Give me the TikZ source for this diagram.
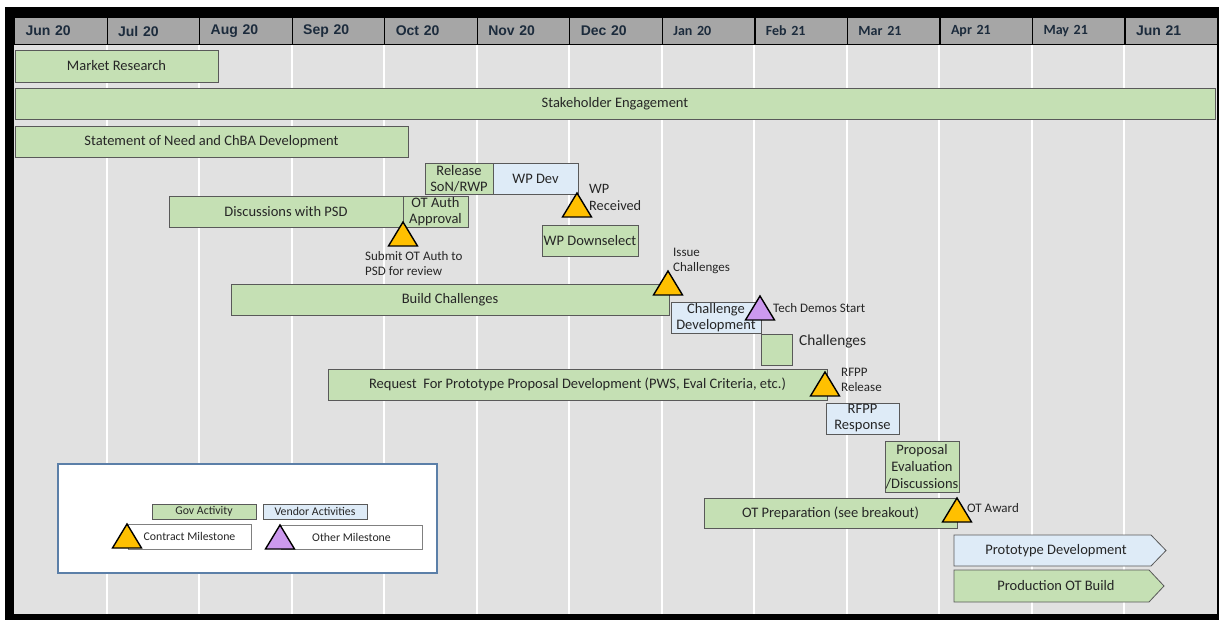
\documentclass[tikz,border=0pt]{standalone}
\usepackage{fontspec}
\setmainfont{Carlito}
\newfontfamily\hA{Liberation Sans}
\definecolor{chartbg}{HTML}{E1E1E1}
\definecolor{hdrgray}{HTML}{A6A6A6}
\definecolor{hdrtxt}{HTML}{1C2B3C}
\definecolor{gov}{HTML}{C5E0B4}
\definecolor{ven}{HTML}{DEEBF7}
\definecolor{barline}{HTML}{595959}
\definecolor{txt}{HTML}{262626}
\definecolor{cmile}{HTML}{FFC000}
\definecolor{omile}{HTML}{CC99EE}
\definecolor{legline}{HTML}{5B7FA8}
\tikzset{
  hdr/.style={draw=black, line width=1.2pt, fill=hdrgray, minimum height=27pt, inner ysep=0pt,
    inner xsep=11pt, text width=70.54pt, align=left, anchor=north west, text=hdrtxt,
    font=\fontsize{14}{15}\selectfont\bfseries},
  bar/.style={draw=barline, line width=0.8pt, inner sep=0pt, outer sep=0pt, anchor=north west,
    align=center, text=txt, font=\fontsize{14.5}{16}\selectfont},
  govbar/.style={bar, fill=gov},
  venbar/.style={bar, fill=ven},
  small/.style={inner sep=0pt, align=left, text=txt, font=\fontsize{13}{15}\selectfont},
  legtxt/.style={font=\fontsize{11.8}{13}\selectfont},
  contract/.pic={\draw[fill=cmile, line width=1.4pt, line join=miter] (0,0) -- (-14.5,24) -- (14.5,24) -- cycle;},
  other/.pic={\draw[fill=omile, line width=1.4pt, line join=miter] (0,0) -- (-14.5,24) -- (14.5,24) -- cycle;}
}
\begin{document}
\begin{tikzpicture}[x=1pt,y=-1pt]
\useasboundingbox (0,0) rectangle (1219,620);
\fill[white] (0,0) rectangle (1219,620);
\fill[black] (5,7) rectangle (1219,620);
\fill[chartbg] (14,44) rectangle (1217,614);
\foreach \i in {1,...,12} \draw[white, line width=2pt] ({14+92.54*\i},44) -- ({14+92.54*\i},614);
% header
\foreach \m [count=\i from 0] in {{\hA Jun 20},{\hA Jul 20},{\hA Aug 20},{\hA Sep 20},{\hA Oct 20},{\hA Nov 20},{\hA Dec 20},{Jan 20},{Feb 21},{Mar 21},{Apr 21},{May 21},{\hA Jun 21}}
  \node[hdr] (h\i) at ({14+92.54*\i},17) {\m};
% bars
\node[govbar, minimum width=203pt, minimum height=32pt] (mr) at (15,50) {Market Research};
\node[govbar, minimum width=1200pt, minimum height=31pt] (se) at (15,88) {Stakeholder Engagement};
\node[govbar, minimum width=393pt, minimum height=31pt] (sn) at (15,126) {Statement of Need and ChBA Development};
\node[govbar, minimum width=68pt, minimum height=31pt] (rel) at (425,163) {Release\\SoN/RWP};
\node[venbar, minimum width=85pt, minimum height=31pt] (wpd) at (493,163) {WP Dev};
\node[govbar, minimum width=234pt, minimum height=31pt] (dis) at (169,196) {Discussions with PSD};
\node[govbar, minimum width=65pt, minimum height=31pt] (ota) at (403,196) {OT Auth\\Approval};
\node[govbar, minimum width=96pt, minimum height=31pt] (wpds) at (542,225) {WP Downselect};
\node[govbar, minimum width=438pt, minimum height=31pt] (bc) at (231,284) {Build Challenges};
\node[venbar, minimum width=90pt, minimum height=31pt] (cd) at (671,302) {Challenge\\Development};
\node[govbar, minimum width=31pt, minimum height=31pt] (ch) at (761,334) {};
\node[govbar, minimum width=499pt, minimum height=31pt] (rfp) at (328,369) {Request\ \ For Prototype Proposal Development (PWS, Eval Criteria, etc.)};
\node[venbar, minimum width=73pt, minimum height=31pt] (rr) at (826,403) {RFPP\\Response};
\node[govbar, minimum width=74pt, minimum height=51pt, font=\fontsize{14.5}{17}\selectfont] (pe) at (885,441) {Proposal\\Evaluation\\/Discussions};
\node[govbar, minimum width=253pt, minimum height=30pt] (otp) at (704,498) {OT Preparation (see breakout)};
\draw[draw=barline, line width=0.8pt, fill=ven] (954,535) -- (1151,535) -- (1166,550.5) -- (1151,566) -- (954,566) -- cycle;
\node[text=txt, font=\fontsize{14.5}{16}\selectfont] (proto) at (1056,551) {Prototype Development};
\draw[draw=barline, line width=0.8pt, fill=gov] (954,570) -- (1149,570) -- (1164,586) -- (1149,602) -- (954,602) -- cycle;
\node[text=txt, font=\fontsize{14.5}{16}\selectfont] (prod) at (1056,586) {Production OT Build};
% milestones
\pic at (403,222) {contract};
\node[small, anchor=north west] (l1) at (365,251) {Submit OT Auth to\\PSD for review};
\pic at (577,193) {contract};
\node[small, anchor=west, font=\fontsize{14.3}{17}\selectfont] (l2) at (589,197) {WP\\Received};
\pic at (668,271) {contract};
\node[small, anchor=west] (l3) at (673,261) {Issue\\Challenges};
\pic at (760,296) {other};
\node[small, anchor=west] (l4) at (773,308) {Tech Demos Start};
\node[small, anchor=west, font=\fontsize{15.3}{17}\selectfont] (l5) at (799,342) {Challenges};
\pic at (825,372) {contract};
\node[small, anchor=west] (l6) at (841,380) {RFPP\\Release};
\pic at (957,498) {contract};
\node[small, anchor=west] (l7) at (967,508) {OT Award};
% legend
\draw[fill=white, draw=legline, line width=1.5pt] (58,464) rectangle (437,573);
\node[govbar, legtxt, minimum width=104pt, minimum height=15pt] (lg) at (152,504) {Gov Activity};
\node[venbar, legtxt, minimum width=104pt, minimum height=15pt] (lv) at (263,504) {Vendor Activities};
\node[bar, fill=white, draw=gray, legtxt, minimum width=123pt, minimum height=25pt] (lc) at (128,524) {Contract Milestone};
\pic at (127,524) {contract};
\node[bar, fill=white, draw=gray, legtxt, minimum width=141pt, minimum height=24pt] (lo) at (281,525) {Other Milestone};
\pic at (280,525) {other};
\end{tikzpicture}
\end{document}
